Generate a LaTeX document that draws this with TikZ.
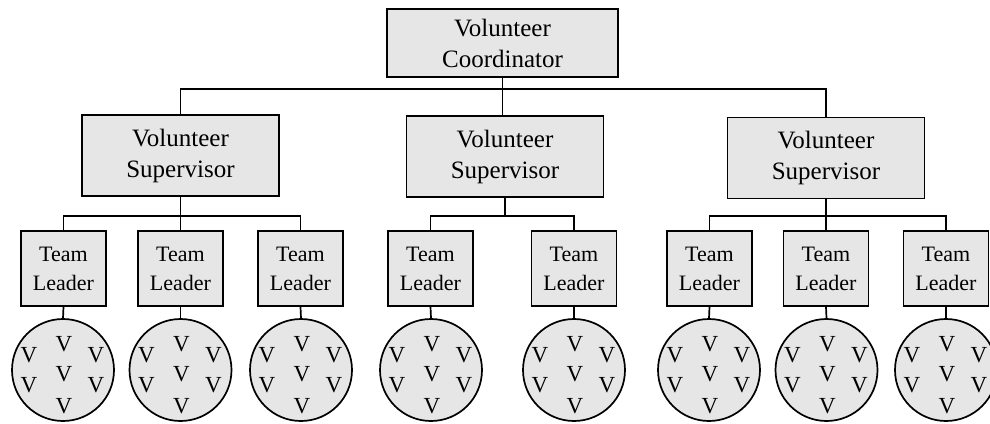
\documentclass[tikz,border=0pt]{standalone}
\usepackage{fontspec}
\setmainfont{Liberation Serif}
\definecolor{boxfill}{RGB}{230,230,230}
\begin{document}
\begin{tikzpicture}[x=1pt,y=-1pt,
  box/.style={draw=black, line width=1.7pt, fill=boxfill, rectangle, inner sep=0pt, align=center},
  big/.style={box, font=\fontsize{25}{31}\selectfont},
  sup/.style={big, minimum width=197pt, minimum height=81pt},
  tl/.style={box, minimum width=85pt, minimum height=75pt, font=\fontsize{22}{29}\selectfont},
  grp/.style={circle, draw=black, line width=1.7pt, fill=boxfill, minimum size=102pt, inner sep=0pt},
  vv/.style={inner sep=0pt, font=\fontsize{23}{23}\selectfont},
  link/.style={line width=1.7pt}]
\useasboundingbox (0,0) rectangle (990,423);
\clip (0,0) rectangle (990,423);

\node[big, minimum width=231pt, minimum height=68pt] (coord) at (502.5,43) {Volunteer\\Coordinator};
\node[sup] (sup1) at (180.5,155.5) {Volunteer\\Supervisor};
\node[sup] (sup2) at (505,156.5) {Volunteer\\Supervisor};
\node[sup] (sup3) at (826,158) {Volunteer\\Supervisor};

\foreach \i/\x in {1/63.5, 2/180.5, 3/300.5, 4/430.5, 5/574, 6/709.5, 7/826, 8/946} {
  \node[tl] (tl\i) at (\x,268.5) {Team\\Leader};
}

\coordinate (top) at (502.5,89);
\draw[link] (sup1.north) |- (top) -| (sup3.north);
\draw[link] (coord.south) -- (coord.south |- sup2.north);

\coordinate (b1) at (180.5,216);
\coordinate (b2) at (505,216);
\coordinate (b3) at (826,216);
\draw[link] (tl1.north) |- (b1) -| (tl3.north);
\draw[link] (sup1.south) -- (tl2.north);
\draw[link] (tl4.north) |- (b2) -| (tl5.north);
\draw[link] (sup2.south) -- (b2);
\draw[link] (tl6.north) |- (b3) -| (tl8.north);
\draw[link] (sup3.south) -- (tl7.north);

\foreach \i/\x in {1/63, 2/180.5, 3/301, 4/431, 5/574, 6/709, 7/826.5, 8/946} {
  \node[grp] (c\i) at (\x,370) {};
  \draw[link] (tl\i.south) -- (c\i.north);
  \foreach \j/\dx/\dy in {a/1/-26, b/-34/-15, c/33/-15, d/1/4, e/-34/15, f/33/15, g/1/36} {
    \node[vv] (v\i\j) at ([shift={(\dx,\dy)}]c\i.center) {V};
  }
}
\end{tikzpicture}
\end{document}
